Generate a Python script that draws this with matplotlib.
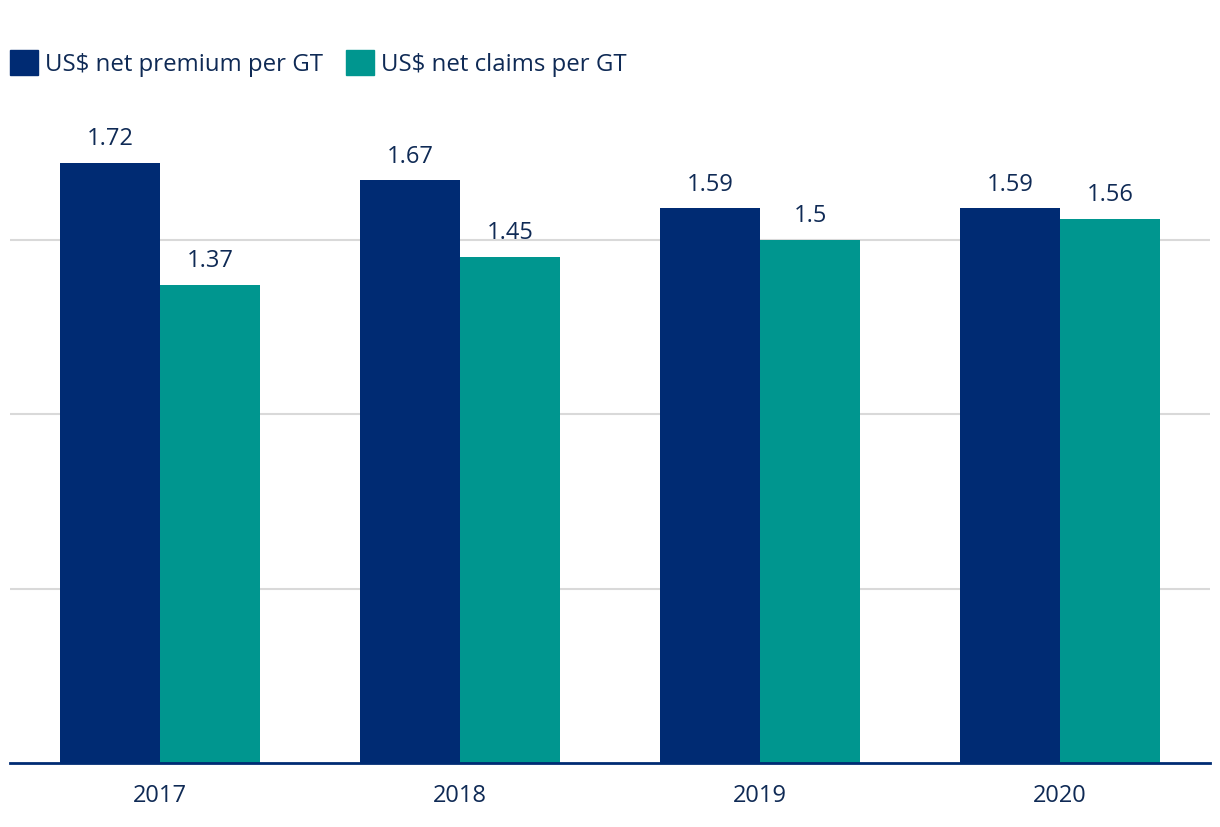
import matplotlib.pyplot as plt
from matplotlib.patches import Patch
import numpy as np

# Data
years = ['2017', '2018', '2019', '2020']
net_premium = [1.72, 1.67, 1.59, 1.59]
net_claims = [1.37, 1.45, 1.50, 1.56]

navy = '#002b73'
teal = '#00968f'
text_color = '#0f2a55'

plt.rcParams['font.family'] = ['Open Sans', 'DejaVu Sans']

fig = plt.figure(figsize=(12.2, 8.28), dpi=100)
# axes box in pixels: x 10..1210, y baseline at 764 px from top
ax = fig.add_axes([10 / 1220, 64 / 828, 1200 / 1220, 700 / 828])

x = np.arange(len(years))
width = 1 / 3

bars1 = ax.bar(x - width / 2, net_premium, width, color=navy, zorder=3)
bars2 = ax.bar(x + width / 2, net_claims, width, color=teal, zorder=3)

# value labels above bars
for bars in (bars1, bars2):
    for b in bars:
        v = b.get_height()
        ax.annotate('{:g}'.format(v), (b.get_x() + b.get_width() / 2, v),
                    xytext=(0, 9), textcoords='offset points',
                    ha='center', va='bottom', fontsize=17, color=text_color)

ax.set_xlim(-0.5, len(years) - 0.5)
ax.set_ylim(0, 700 / 349)
ax.set_yticks([0.5, 1.0, 1.5])
ax.yaxis.grid(True, color='#d9d9d9', linewidth=1.5, zorder=0)
ax.tick_params(axis='y', left=False, labelleft=False)
ax.set_xticks(x)
ax.set_xticklabels(years)
ax.tick_params(axis='x', bottom=False, labelsize=17, labelcolor=text_color, pad=11)

for side in ('top', 'right', 'left'):
    ax.spines[side].set_visible(False)
ax.spines['bottom'].set_color(navy)
ax.spines['bottom'].set_linewidth(2)
ax.spines['bottom'].set_zorder(4)

handles = [Patch(color=navy, label='US$ net premium per GT'),
           Patch(color=teal, label='US$ net claims per GT')]
fig.legend(handles=handles, loc='upper left', bbox_to_anchor=(10 / 1220, 1 - 51 / 828),
           ncol=2, frameon=False, fontsize=17.3, labelcolor=text_color,
           handlelength=1.17, handleheight=1.2, handletextpad=0.3,
           columnspacing=0.93, borderaxespad=0, borderpad=0)

fig.savefig('out.png', dpi=100)
